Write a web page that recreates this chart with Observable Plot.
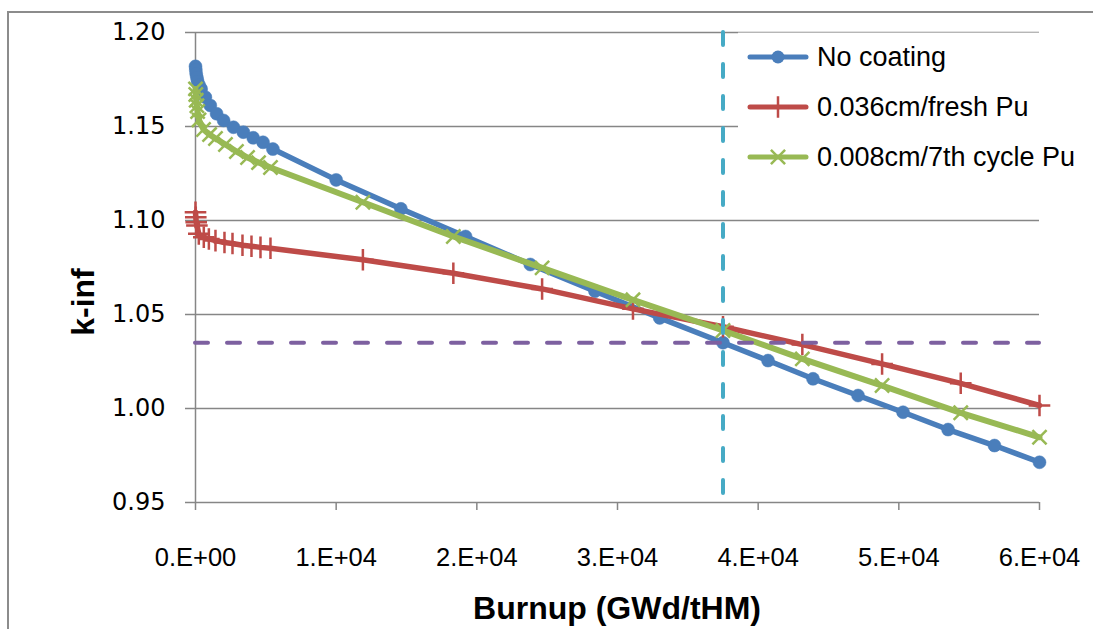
<!DOCTYPE html>
<html><head><meta charset="utf-8">
<script src="https://cdn.jsdelivr.net/npm/d3@7"></script>
<script src="https://cdn.jsdelivr.net/npm/@observablehq/plot@0.6"></script>
<style>
html,body{margin:0;padding:0;background:#fff;}
#chart{width:1093px;height:629px;overflow:hidden;}
</style></head><body><div id="chart"></div>
<script>
// ---- data ----
const seriesNames = ["No coating", "0.036cm/fresh Pu", "0.008cm/7th cycle Pu"];

const burnupNoCoating = [0, 20, 50, 100, 150, 250, 400, 700, 1050, 1500, 2000, 2700, 3400, 4100, 4800, 5500,
  10000, 14600, 19200, 23800, 28400, 33000, 37500, 40700, 43900, 47100, 50300, 53500, 56800, 60000];
const kinfNoCoating = [1.182, 1.180, 1.178, 1.176, 1.174, 1.172, 1.170, 1.1656, 1.1612, 1.1568, 1.1532, 1.1496, 1.147, 1.144, 1.1416, 1.138,
  1.1216, 1.1062, 1.0915, 1.0766, 1.0624, 1.0482, 1.035, 1.0255, 1.0158, 1.0069, 0.998, 0.9888, 0.9803, 0.9714];

const burnupFreshPu = [0, 20, 50, 100, 235, 590, 950, 1420, 2060, 2630, 3340, 3980, 4620, 5330,
  11900, 18330, 24640, 31100, 37500, 43140, 48810, 54400, 60000];
const kinfFreshPu = [1.1044, 1.1017, 1.0991, 1.0973, 1.0929, 1.0911, 1.0902, 1.0893, 1.0883, 1.0878, 1.0868, 1.0863, 1.0857, 1.0852,
  1.0791, 1.0719, 1.0636, 1.053, 1.0435, 1.034, 1.0237, 1.0134, 1.0016];

const burnup7thCycle = [0, 20, 50, 100, 150, 250, 570, 1000, 1420, 2130, 2910, 3700, 4480, 5330,
  11900, 18330, 24640, 31100, 37500, 43140, 48810, 54400, 60000];
const kinf7thCycle = [1.170, 1.167, 1.164, 1.161, 1.158, 1.1535, 1.1484, 1.1457, 1.1436, 1.1404, 1.1367, 1.1335, 1.1308, 1.1282,
  1.1097, 1.0915, 1.0748, 1.0578, 1.0415, 1.0264, 1.0122, 0.9977, 0.9847];

const targetKinf = [1.035];
const targetBurnup = [37500];

const xTickValues = [0, 10000, 20000, 30000, 40000, 50000, 60000];
const yTickValues = [0.95, 1.00, 1.05, 1.10, 1.15, 1.20];
const xTitle = "Burnup (GWd/tHM)";
const yTitle = "k-inf";

// ---- styling ----
const colors = ["#4A7EBB", "#BE4B48", "#98B954"];
const purple = "#7D60A0", cyan = "#46AAC5", gridGray = "#868686";

const rows = (xs, ys) => xs.map((x, i) => ({burnup: x, kinf: ys[i]}));
const blue = rows(burnupNoCoating, kinfNoCoating);
const red = rows(burnupFreshPu, kinfFreshPu);
const green = rows(burnup7thCycle, kinf7thCycle);

const fmtE = d => {
  if (d === 0) return "0.E+00";
  const e = Math.floor(Math.log10(Math.abs(d)));
  const m = Math.round(d / Math.pow(10, e));
  return `${m}.E+${String(e).padStart(2, "0")}`;
};

const yLo = d3.min(yTickValues), yHi = d3.max(yTickValues);

const chart = Plot.plot({
  width: 1093, height: 629,
  marginLeft: 195, marginRight: 54, marginTop: 32, marginBottom: 127,
  style: {fontFamily: "Liberation Sans, Arial, sans-serif", fontSize: "22px", color: "black", background: "white", overflow: "hidden"},
  x: {domain: [d3.min(xTickValues), d3.max(xTickValues)], ticks: xTickValues, tickFormat: fmtE, tickSize: 8, tickPadding: 37, label: null},
  y: {domain: [yLo, yHi], ticks: yTickValues, tickFormat: d3.format(".2f"), tickSize: 10, tickPadding: 20, label: null},
  marks: [
    Plot.ruleY(yTickValues, {stroke: gridGray, strokeWidth: 1.5}),
    Plot.ruleX([d3.min(xTickValues)], {stroke: gridGray, strokeWidth: 1.5}),
    Plot.line(blue, {x: "burnup", y: "kinf", stroke: colors[0], strokeWidth: 5.5, strokeLinejoin: "round", strokeLinecap: "round"}),
    Plot.dot(blue, {x: "burnup", y: "kinf", r: 6.5, fill: colors[0], stroke: colors[0], strokeWidth: 0.5}),
    Plot.line(red, {x: "burnup", y: "kinf", stroke: colors[1], strokeWidth: 5.5, strokeLinejoin: "round", strokeLinecap: "round"}),
    Plot.dot(red, {x: "burnup", y: "kinf", symbol: "plus", r: 7, stroke: colors[1], strokeWidth: 2.5}),
    Plot.line(green, {x: "burnup", y: "kinf", stroke: colors[2], strokeWidth: 6, strokeLinejoin: "round", strokeLinecap: "round"}),
    Plot.dot(green, {x: "burnup", y: "kinf", symbol: "times", r: 6.5, stroke: colors[2], strokeWidth: 2.5}),
    Plot.ruleY(targetKinf, {stroke: purple, strokeWidth: 4, strokeDasharray: "13,19", strokeLinecap: "round"}),
    Plot.ruleX(targetBurnup.map(b => ({b, top: yHi, bottom: yLo})), {x: "b", y1: "top", y2: "bottom", stroke: cyan, strokeWidth: 4, strokeDasharray: "13,19", strokeLinecap: "round"})
  ]
});

document.getElementById("chart").appendChild(chart);
const svg = d3.select(chart);

// axis tick styling
svg.selectAll('[aria-label^="x-axis"] line, [aria-label^="x-axis"] path, [aria-label^="y-axis"] line, [aria-label^="y-axis"] path')
  .attr("stroke", gridGray).style("stroke-width", "1.5px");
svg.selectAll('[aria-label^="x-axis"] text').style("font-family", "Liberation Sans, Arial, sans-serif").style("font-size", "25.5px").style("fill", "black");
svg.selectAll('[aria-label^="y-axis"] text').style("font-family", "DejaVu Sans, sans-serif").style("font-size", "24px").style("fill", "black");

// outer chart border (right/bottom edges fall outside the picture)
svg.append("rect").attr("x", 8).attr("y", 12).attr("width", 1200).attr("height", 800)
  .style("fill", "none").style("stroke", "#8C8C8C").style("stroke-width", "2px");

// axis titles
svg.append("text").text(yTitle)
  .attr("transform", "translate(83,302) rotate(-90)")
  .attr("dy", "0.35em")
  .style("text-anchor", "middle")
  .style("font-family", "Liberation Sans, Arial, sans-serif").style("font-weight", "bold").style("font-size", "32px").style("fill", "black");
svg.append("text").text(xTitle)
  .attr("x", 617).attr("y", 608)
  .attr("dy", "0.35em")
  .style("text-anchor", "middle")
  .style("font-family", "Liberation Sans, Arial, sans-serif").style("font-weight", "bold").style("font-size", "32px").style("fill", "black");

// legend (inside the plot, top-right, on a white box that hides the grid)
const lg = svg.append("g");
lg.append("rect").attr("x", 738).attr("y", 32.6).attr("width", 400).attr("height", 172)
  .style("fill", "#ffffff").style("stroke", "none");
const symbols = [d3.symbolCircle, d3.symbolPlus, d3.symbolTimes];
const symR = [6.5, 7, 6.5];
seriesNames.forEach((name, i) => {
  const cy = 57 + 50 * i;
  lg.append("line").attr("x1", 750).attr("x2", 806).attr("y1", cy).attr("y2", cy)
    .style("stroke", colors[i]).style("stroke-width", "5px").style("stroke-linecap", "round");
  const p = lg.append("path").attr("transform", `translate(778,${cy})`)
    .attr("d", d3.symbol(symbols[i], symR[i] * symR[i] * Math.PI)());
  if (i === 0) p.style("fill", colors[i]).style("stroke", "none");
  else p.style("fill", "none").style("stroke", colors[i]).style("stroke-width", "2.5px");
  lg.append("text").text(name).attr("x", 817).attr("y", cy).attr("dy", "0.35em")
    .style("text-anchor", "start")
    .style("font-family", "Liberation Sans, Arial, sans-serif").style("font-size", "27px").style("fill", "black");
});
</script>
</body></html>
